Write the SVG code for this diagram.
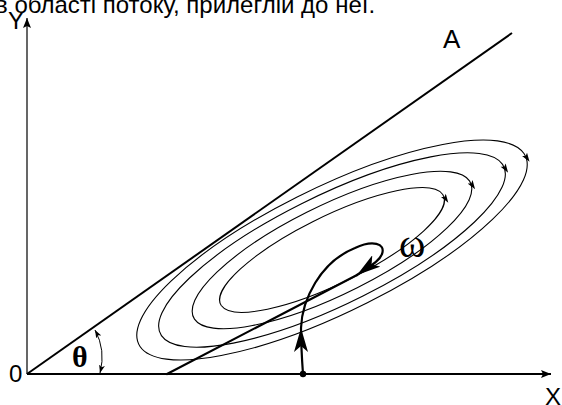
<svg xmlns="http://www.w3.org/2000/svg" width="562" height="405" viewBox="0 0 562 405">
<style>
.lbl{font-family:"Liberation Sans",Arial,sans-serif;fill:#000}
.gr{font-family:"Liberation Serif","Times New Roman",serif;fill:#000}
.ell{fill:none;stroke:#000;stroke-width:1.1;marker-start:url(#ea)}
.thick{fill:none;stroke:#000;stroke-width:2.2;stroke-linecap:round}
</style>
<defs>
<marker id="ax" markerUnits="userSpaceOnUse" markerWidth="10" markerHeight="8" refX="10" refY="4" orient="auto"><path d="M0,0 L10,4 L0,8 L2,4 Z" fill="#000"/></marker>
<marker id="ea" markerUnits="userSpaceOnUse" markerWidth="10" markerHeight="6" refX="0" refY="3" orient="auto"><path d="M0,3 L-9,0 L-7,3 L-9,6 Z" fill="#000" transform="translate(10,0)"/></marker>
<marker id="ba" markerUnits="userSpaceOnUse" markerWidth="24" markerHeight="14" refX="24" refY="7" orient="auto"><path d="M0,0 L24,7 L0,14 L6,7 Z" fill="#000"/></marker>
<marker id="sa" markerUnits="userSpaceOnUse" markerWidth="8" markerHeight="6" refX="8" refY="3" orient="auto"><path d="M0,0 L8,3 L0,6 L2,3 Z" fill="#000"/></marker>
<marker id="sas" markerUnits="userSpaceOnUse" markerWidth="8" markerHeight="6" refX="0" refY="3" orient="auto"><path d="M8,0 L0,3 L8,6 L6,3 Z" fill="#000"/></marker>
</defs>
<text class="lbl" x="-5" y="13" font-size="24">в області потоку, прилеглій до неї.</text>
<g id="axes">
<line x1="27" y1="374" x2="27" y2="18" stroke="#000" stroke-width="1.2" marker-end="url(#ax)"/>
<line x1="27" y1="374" x2="551" y2="374" stroke="#000" stroke-width="2" marker-end="url(#ax)"/>
<text class="lbl" x="8" y="29" font-size="24">Y</text>
<text class="lbl" x="545" y="405" font-size="24">X</text>
<text class="lbl" x="9" y="382" font-size="24">0</text>
</g>
<g id="lineA">
<line x1="27" y1="374" x2="512" y2="33" stroke="#000" stroke-width="2"/>
<text class="lbl" x="443" y="48" font-size="26">A</text>
</g>
<g id="angle">
<path d="M95,330 Q106,350 100,373" fill="none" stroke="#000" stroke-width="1" marker-start="url(#sas)" marker-end="url(#sa)"/>
<text class="gr" x="72" y="367" font-size="30" font-weight="bold">θ</text>
</g>
<g id="ellipses" transform="translate(332,250) rotate(-26)">
<path class="ell" d="M123.9,-1.36 A124,34 0 0 1 -123.9,1.36 A124,34 0 0 1 123.9,-1.36"/>
<path class="ell" d="M153.88,-1.8 A154,45 0 0 1 -153.88,1.8 A154,45 0 0 1 153.88,-1.8"/>
<path class="ell" d="M190.85,-2.2 A191,55 0 0 1 -190.85,2.2 A191,55 0 0 1 190.85,-2.2"/>
<path class="ell" d="M214.83,-2.52 A215,63 0 0 1 -214.83,2.52 A215,63 0 0 1 214.83,-2.52"/>
</g>
<g id="connectors">
<path class="thick" d="M303,374 C302,360 301,345 301,328" marker-end="url(#ba)"/>
<path class="thick" d="M301,328 C302,300 320,262 355,248 C372,240 386,243 382,254 C379,262 368,267 357,275" marker-end="url(#ba)"/>
<path class="thick" d="M357,275 L167,374"/>
<circle cx="303" cy="374" r="3.2" fill="#000"/>
<text class="gr" x="399" y="257" font-size="40">ω</text>
</g>
</svg>
